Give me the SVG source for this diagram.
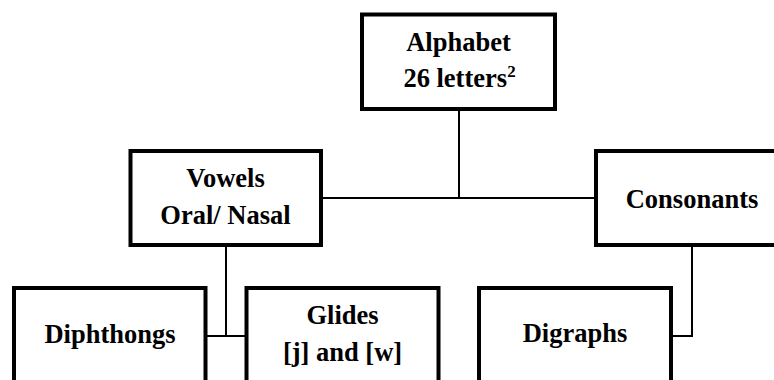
<svg xmlns="http://www.w3.org/2000/svg" width="774" height="380" viewBox="0 0 774 380">
<style>
.box{fill:#fff;stroke:#000;stroke-width:4}
.con{fill:none;stroke:#000;stroke-width:2}
.t{font-family:'Liberation Serif','Times New Roman',serif;font-weight:700;font-size:26.5px;text-anchor:middle;fill:#000}
.sup{font-size:17px}
</style>
<rect width="774" height="380" fill="#fff"/>
<g id="connectors">
<path class="con" d="M459,109 V198 M321,198 H596"/>
<path class="con" d="M226,245 V336 M205.5,336 H246.5"/>
<path class="con" d="M692,245 V336 H671"/>
</g>
<g id="alphabet">
<rect class="box" x="362" y="14.5" width="193" height="94.5"/>
<text class="t" x="458.5" y="51">Alphabet</text>
<text class="t" x="459.5" y="87">26 letters<tspan class="sup" dy="-10">2</tspan></text>
</g>
<g id="vowels">
<rect class="box" x="130.5" y="151" width="190.5" height="94"/>
<text class="t" x="225.5" y="187">Vowels</text>
<text class="t" x="225.5" y="224">Oral/ Nasal</text>
</g>
<g id="consonants">
<rect class="box" x="596" y="151" width="200" height="94"/>
<text class="t" x="692" y="208">Consonants</text>
</g>
<g id="diphthongs">
<rect class="box" x="14" y="288" width="191.5" height="120"/>
<text class="t" x="110" y="343">Diphthongs</text>
</g>
<g id="glides">
<rect class="box" x="246.5" y="288" width="192" height="120"/>
<text class="t" x="342.5" y="324">Glides</text>
<text class="t" x="342.5" y="361">[j] and [w]</text>
</g>
<g id="digraphs">
<rect class="box" x="479" y="288" width="192" height="120"/>
<text class="t" x="575" y="342">Digraphs</text>
</g>
</svg>
